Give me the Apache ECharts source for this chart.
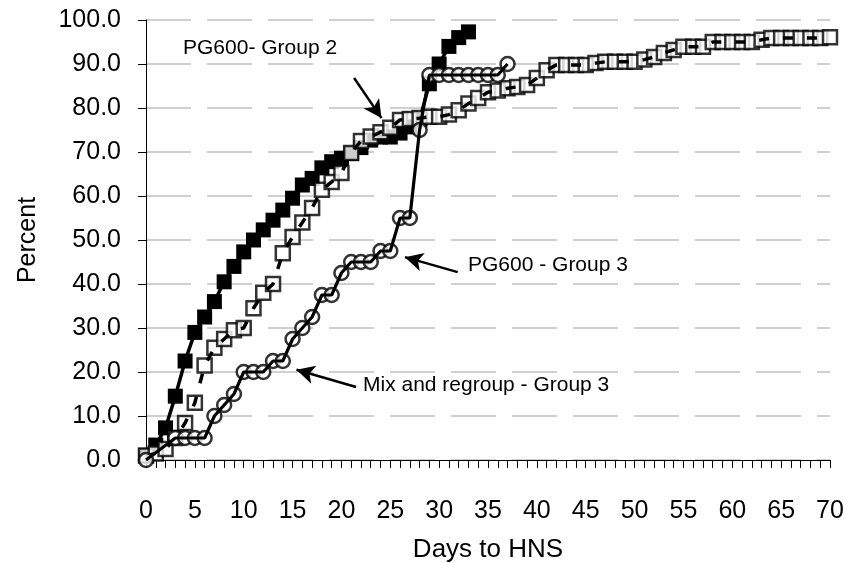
<!DOCTYPE html>
<html>
<head>
<meta charset="utf-8">
<script src="https://cdn.jsdelivr.net/npm/echarts@6/dist/echarts.min.js"></script>
<style>html,body{margin:0;padding:0;background:#fff;}#c{width:846px;height:563px;}</style>
</head>
<body>
<div id="c"></div>
<script>
// ---- data ----
var filledDays = [0,1,2,3,4,5,6,7,8,9,10,11,12,13,14,15,16,17,18,19,20,21,22,23,24,25,26,27,28,29,30,31,32,33];
var filledVals = [1,3.4,7.3,14.5,22.5,29,32.5,36,40.5,44,47.3,50,52.3,54.5,56.8,59.5,62.5,64,66.4,67.8,68.6,69.7,71,72.7,73.4,73.4,74.3,75.7,77.3,85.5,90,94,96,97.3];

var openDays = [0,1,2,3,4,5,6,7,8,9,10,11,12,13,14,15,16,17,18,19,20,21,22,23,24,25,26,27,28,29,30,31,32,33,34,35,36,37,38,39,40,41,42,43,44,45,46,47,48,49,50,51,52,53,54,55,56,57,58,59,60,61,62,63,64,65,66,67,68,69,70];
var openVals = [1,1.5,2.5,5,8.4,13,21.5,25.5,27.5,29.5,30,34.5,38,40,47,50.7,54,57.3,61.4,63.2,65.2,69.8,72.5,73.5,74.5,75.5,77.3,77.5,77.7,78,78,78.5,79.5,81,82.3,83.6,84,84.5,84.8,85.2,86.8,88.6,89.8,89.8,89.8,89.8,90.2,90.5,90.5,90.5,90.5,91,91.6,92.5,93.2,93.9,93.9,93.9,95,95,95,95,95,95.5,95.9,95.9,95.9,95.9,95.9,95.9,96.1];

var circleDays = [0,3,4,5,6,7,8,9,10,11,12,13,14,15,16,17,18,19,20,21,22,23,24,25,26,27,28,29,30,31,32,33,34,35,36,37];
var circleVals = [0,5,5,5,5,10,12.5,15,20,20,20,22.5,22.5,27.5,30,32.5,37.5,37.5,42.5,45,45,45,47.5,47.5,55,55,75,87.5,87.5,87.5,87.5,87.5,87.5,87.5,87.5,90];

var xTicks = [0,5,10,15,20,25,30,35,40,45,50,55,60,65,70];
var yTicks = [0,10,20,30,40,50,60,70,80,90,100];

// annotations: text, arrow start (day, %), arrow end (day, %)
var annTexts = ['PG600- Group 2', 'PG600 - Group 3', 'Mix and regroup - Group 3'];
var annFrom = [[21.3,86.8],[31.9,42.7],[21.5,16.6]];
var annTo = [[24.1,77.7],[26.5,46.1],[15.4,20.5]];

function pairs(xs, ys){ return xs.map(function(x,i){ return [x, ys[i]]; }); }

var FONT = "'Liberation Sans', Arial, sans-serif";
var chart = echarts.init(document.getElementById('c'));

var option = {
  backgroundColor: '#fff',
  animation: false,
  grid: {left: 146, right: 16, top: 20, bottom: 103, containLabel: false, outerBoundsMode: 'none'},
  xAxis: {
    type: 'value', min: xTicks[0], max: xTicks[xTicks.length-1], interval: 5,
    axisLine: {show: true, onZero: false, lineStyle: {color: '#000', width: 1}},
    axisTick: {show: true, length: 8, lineStyle: {color: '#000'}},
    minorTick: {show: true, splitNumber: 5, length: 8, lineStyle: {color: '#000'}},
    axisLabel: {fontSize: 25, color: '#000', margin: 39, fontFamily: FONT},
    splitLine: {show: false},
    name: 'Days to HNS', nameLocation: 'middle', nameGap: 77,
    nameTextStyle: {fontSize: 26, color: '#000', fontFamily: FONT}
  },
  yAxis: {
    type: 'value', min: yTicks[0], max: yTicks[yTicks.length-1], interval: 10,
    axisLine: {show: true, lineStyle: {color: '#000', width: 1}},
    axisTick: {show: true, length: 8, lineStyle: {color: '#000'}},
    axisLabel: {fontSize: 25, color: '#000', margin: 25, fontFamily: FONT,
      formatter: function(v){ return v.toFixed(1); }},
    splitLine: {show: true, lineStyle: {color: '#c0c0c0', width: 1.5, type: [45, 16]}},
    name: 'Percent', nameLocation: 'middle', nameGap: 105, nameRotate: 90,
    nameTextStyle: {fontSize: 25, color: '#000', fontFamily: FONT}
  },
  series: [
    {
      type: 'line', data: pairs(filledDays, filledVals), z: 2,
      symbol: 'rect', symbolSize: 15, showSymbol: true,
      lineStyle: {color: '#000', width: 3.5},
      itemStyle: {color: '#000'},
      markLine: {
        silent: true, symbol: ['none', 'arrow'], symbolSize: [14, 18],
        label: {show: false},
        lineStyle: {color: '#000', width: 2.5, type: 'solid'},
        data: annFrom.map(function(f, i){ return [{coord: f}, {coord: annTo[i]}]; })
      }
    },
    {
      type: 'scatter', data: pairs(openDays, openVals), z: 3,
      symbol: 'rect', symbolSize: 14,
      itemStyle: {color: '#fff', borderColor: '#000', borderWidth: 2.5}
    },
    {
      type: 'line', data: pairs(openDays, openVals), z: 4,
      showSymbol: false, symbol: 'none',
      lineStyle: {color: '#000', width: 3.5, type: [10, 14]}
    },
    {
      type: 'scatter', data: pairs(circleDays, circleVals), z: 5,
      symbol: 'circle', symbolSize: 14,
      itemStyle: {color: '#fff', borderColor: '#000', borderWidth: 2.5}
    },
    {
      type: 'line', data: pairs(circleDays, circleVals), z: 6,
      showSymbol: false, symbol: 'none',
      lineStyle: {color: '#000', width: 3.2}
    }
  ],
  graphic: [
    {type: 'text', x: 183, y: 48, style: {text: annTexts[0], font: '21px ' + FONT, fill: '#000', verticalAlign: 'middle'}},
    {type: 'text', x: 468, y: 265, style: {text: annTexts[1], font: '21px ' + FONT, fill: '#000', verticalAlign: 'middle'}},
    {type: 'text', x: 363, y: 385, style: {text: annTexts[2], font: '21px ' + FONT, fill: '#000', verticalAlign: 'middle'}}
  ]
};
chart.setOption(option);
</script>
</body>
</html>
